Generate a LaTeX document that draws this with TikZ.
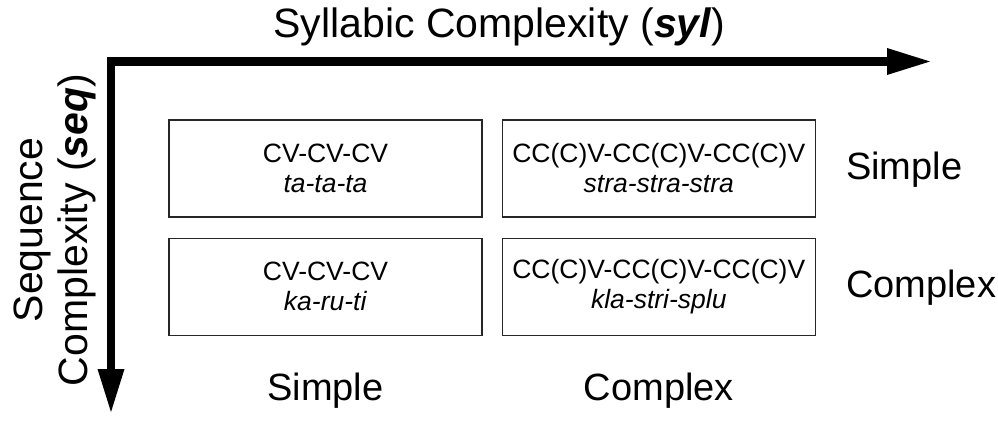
\documentclass[tikz,border=0pt]{standalone}
\usepackage{fontspec}
\setmainfont{Liberation Sans}
\usetikzlibrary{arrows.meta,positioning}

\begin{document}
\begin{tikzpicture}[x=1pt, y=-1pt, node distance=20pt and 19pt,
    every node/.style={font=\fontsize{26.5}{30}\selectfont},
    cell/.style={draw=black!85, line width=1.3pt, minimum width=313pt, minimum height=97pt, align=center, inner sep=0pt},
    lab/.style={font=\fontsize{38}{45}\selectfont, inner sep=0pt, text height=27pt, text depth=0pt},
    axislab/.style={font=\fontsize{41}{45}\selectfont, inner sep=0pt},
    axis/.style={line width=8.5pt, line join=miter, {Triangle[length=43pt,width=27pt,line width=0pt]}-{Triangle[length=43pt,width=27pt,line width=0pt]}}]
    \useasboundingbox (0,0) rectangle (998,425);
    
    % axes
    \coordinate (o) at (111,61.5);
    \coordinate (xend) at (930,61.5);
    \coordinate (yend) at (111,412);
    \draw[axis] (yend) -- (o) -- (xend);
    \node[axislab, anchor=base] (sylaxis) at (499.5,38) {Syllabic Complexity (\textbf{\textit{syl}})};
    \node[axislab, rotate=90, align=center] (seqaxis) at (54.5,230) {Sequence\\Complexity (\textbf{\textit{seq}})};
    
    % cells
    \node[cell] (c1) at (325.5,168.5) {CV-CV-CV\\\textit{ta-ta-ta}};
    \node[cell, right=of c1] (c2) {CC(C)V-CC(C)V-CC(C)V\\\textit{stra-stra-stra}};
    \node[cell, below=of c1] (c3) {CV-CV-CV\\\textit{ka-ru-ti}};
    \node[cell, below=of c2] (c4) {CC(C)V-CC(C)V-CC(C)V\\\textit{kla-stri-splu}};
    
    % levels
    \node[lab, right=30pt of c2, yshift=3pt] (simplerow) {Simple};
    \node[lab, right=30pt of c4, yshift=3pt] (complexrow) {Complex};
    \node[lab, below=37pt of c3] (simplecol) {Simple};
    \node[lab, below=37pt of c4] (complexcol) {Complex};
\end{tikzpicture}
\end{document}
